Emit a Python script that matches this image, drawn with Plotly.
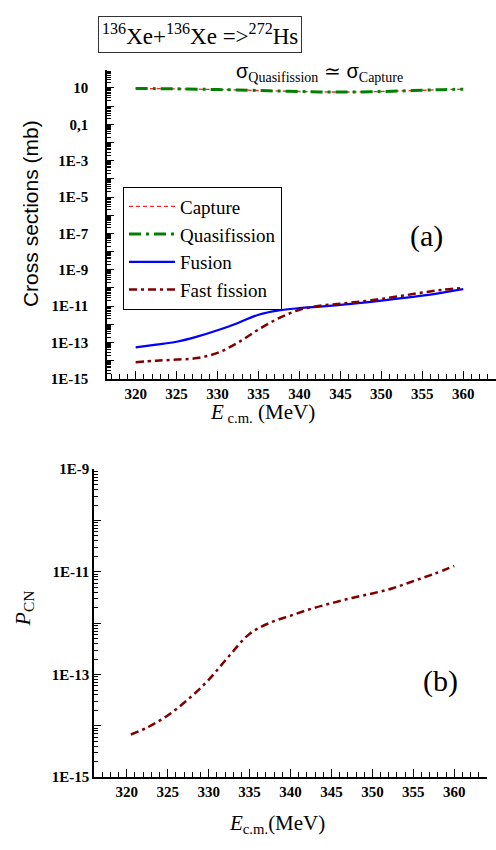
import plotly.graph_objects as go

# ---------------- data ----------------
energy = [320, 322.5, 325, 327.5, 330, 332.5, 335, 337.5, 340, 342.5, 345,
          347.5, 350, 352.5, 355, 357.5, 360]
capture = [9.5, 9.2, 9.0, 8.6, 8.2, 7.8, 7.3, 6.8, 6.4, 6.1, 6.0, 6.1, 6.4,
           6.9, 7.5, 8.1, 8.6]
quasifission = [9.5, 9.2, 9.0, 8.6, 8.2, 7.8, 7.3, 6.8, 6.4, 6.1, 6.0, 6.1, 6.4,
                6.9, 7.5, 8.1, 8.6]
fusion = [5.4e-14, 7.6e-14, 1.1e-13, 2.1e-13, 4.7e-13, 1.2e-12, 3.4e-12, 5.9e-12,
          7.8e-12, 9.5e-12, 1.17e-11, 1.5e-11, 2.0e-11, 2.75e-11, 3.8e-11, 5.6e-11,
          8.7e-11]
fast_fission = [8.3e-15, 1.0e-14, 1.15e-14, 1.4e-14, 2.7e-14, 1.0e-13, 5.2e-13,
                2.2e-12, 6.3e-12, 1.05e-11, 1.35e-11, 1.8e-11, 2.5e-11, 3.7e-11,
                5.6e-11, 7.9e-11, 1.0e-10]
energy_b = [320.5, 322.5, 325, 327.5, 330, 332.5, 335, 337.5, 340, 342.5, 345,
            347.5, 350, 352.5, 355, 357.5, 360]
p_cn = [6.8e-15, 9.3e-15, 1.6e-14, 3.3e-14, 7.9e-14, 2.3e-13, 6.2e-13, 1.02e-12,
        1.4e-12, 1.9e-12, 2.45e-12, 3.1e-12, 3.8e-12, 4.8e-12, 6.6e-12, 9.1e-12,
        1.3e-11]

x_tick_start = 320
x_tick_step = 5
top_y_exps = list(range(-15, 3))
top_y_labels = {1: "10", -1: "0,1", -3: "1E-3", -5: "1E-5", -7: "1E-7",
                -9: "1E-9", -11: "1E-11", -13: "1E-13", -15: "1E-15"}
bot_y_exps = list(range(-15, -8))
bot_y_labels = {-9: "1E-9", -11: "1E-11", -13: "1E-13", -15: "1E-15"}

W, H = 496, 850


def px(x):
    return x / W


def py(y):
    return 1 - y / H


SERIF = "Liberation Serif, Times New Roman, serif"
SANS = "Liberation Sans, Arial, sans-serif"

fig = go.Figure()

fig.add_trace(go.Scatter(x=energy, y=capture, name="Capture", mode="lines",
                         line=dict(color="#ff2020", width=1.3, dash="4px,3px", shape="spline"),
                         xaxis="x", yaxis="y"))
fig.add_trace(go.Scatter(x=energy, y=quasifission, name="Quasifission", mode="lines",
                         line=dict(color="#008000", width=3, dash="12px,5px,3px,5px", shape="spline"),
                         xaxis="x", yaxis="y"))
fig.add_trace(go.Scatter(x=energy, y=fusion, name="Fusion", mode="lines",
                         line=dict(color="#0000ff", width=2.2, shape="spline"),
                         xaxis="x", yaxis="y"))
fig.add_trace(go.Scatter(x=energy, y=fast_fission, name="Fast fission", mode="lines",
                         line=dict(color="#800000", width=2.5, dash="8px,4px,3px,4px", shape="spline"),
                         xaxis="x", yaxis="y"))
fig.add_trace(go.Scatter(x=energy_b, y=p_cn, name="P_CN", mode="lines", showlegend=False,
                         line=dict(color="#800000", width=2.5, dash="8px,4px,3px,4px", shape="spline"),
                         xaxis="x2", yaxis="y2"))


def minor_vals(exps):
    vals = []
    for e in exps[:-1]:
        for m in range(2, 10):
            vals.append(m * 10.0 ** e)
    return vals


def bold(s):
    return "<b>%s</b>" % s if s else ""


axis_common = dict(showline=True, linecolor="black", linewidth=1.5, mirror=False,
                   showgrid=False, zeroline=False, ticks="inside", tickcolor="black",
                   tickwidth=1.3,
                   tickfont=dict(family=SERIF, size=15, color="black"))


def x_axis_cfg(domain, anchor, rng):
    return dict(domain=domain, anchor=anchor, range=rng,
                tickmode="linear", tick0=x_tick_start, dtick=x_tick_step,
                tickprefix="<b>", ticksuffix="</b>", ticklen=8,
                minor=dict(tickmode="linear", tick0=0, dtick=1, ticks="inside",
                           ticklen=5, tickcolor="black", tickwidth=1.2, showgrid=False),
                **axis_common)


def minor_y_cfg(exps):
    return dict(tickmode="array", tickvals=minor_vals(exps), ticks="inside",
                ticklen=4, tickcolor="black", tickwidth=1, showgrid=False)


fig.update_layout(
    width=W, height=H,
    margin=dict(l=0, r=0, t=0, b=0),
    paper_bgcolor="white", plot_bgcolor="white",
    showlegend=True,
    legend=dict(x=px(123), y=py(182), xanchor="left", yanchor="top",
                bordercolor="black", borderwidth=1, bgcolor="white",
                font=dict(family=SERIF, size=19, color="black"),
                tracegroupgap=0, itemwidth=46),
    xaxis=x_axis_cfg([px(107), 1.0], "y", [316.5, 364]),
    yaxis=dict(domain=[py(378), py(63)], anchor="x", type="log", range=[-15, 2],
               tickmode="array",
               tickvals=[10.0 ** e for e in top_y_exps],
               ticktext=[bold(top_y_labels.get(e, "")) for e in top_y_exps],
               ticklen=7, ticklabelstandoff=14,
               minor=minor_y_cfg(top_y_exps), **axis_common),
    xaxis2=x_axis_cfg([px(94), px(487)], "y2", [316, 364]),
    yaxis2=dict(domain=[py(784), py(470)], anchor="x2", type="log", range=[-15, -9],
                tickmode="array",
                tickvals=[10.0 ** e for e in bot_y_exps],
                ticktext=[bold(bot_y_labels.get(e, "")) for e in bot_y_exps],
                ticklen=7, ticklabelstandoff=0,
                minor=minor_y_cfg(bot_y_exps), **axis_common),
)

annotations = [
    dict(text="<sup>136</sup>Xe+<sup>136</sup>Xe =><sup>272</sup>Hs",
         x=px(200), y=py(27), font=dict(family=SERIF, size=23, color="black"),
         bordercolor="#333", borderwidth=1, borderpad=3, bgcolor="white"),
    dict(text="σ<sub><span style='font-family:Liberation Serif'>Quasifission</span></sub> "
              "≃ σ<sub><span style='font-family:Liberation Serif'>Capture</span></sub>",
         x=px(319), y=py(66), font=dict(family=SANS, size=20, color="black")),
    dict(text="(a)", x=px(426), y=py(232), font=dict(family=SERIF, size=30, color="black")),
    dict(text="(b)", x=px(440), y=py(686), font=dict(family=SERIF, size=30, color="black")),
    dict(text="<i>E</i><sub> c.m.</sub> (MeV)", x=px(262), y=py(413),
         font=dict(family=SERIF, size=21, color="black")),
    dict(text="<i>E</i><sub>c.m.</sub>(MeV)", x=px(277), y=py(832),
         font=dict(family=SERIF, size=21, color="black")),
    dict(text="Cross sections (mb)", x=px(30), y=py(210), textangle=-90,
         font=dict(family=SANS, size=21, color="black")),
    dict(text="<i>P</i><sub>CN</sub>", x=px(24), y=py(612), textangle=-90,
         font=dict(family=SERIF, size=22, color="black")),
]
for a in annotations:
    a.setdefault("xref", "paper")
    a.setdefault("yref", "paper")
    a.setdefault("showarrow", False)
    a.setdefault("xanchor", "center")
    a.setdefault("yanchor", "middle")
    fig.add_annotation(**a)

fig.write_html("out.html")
